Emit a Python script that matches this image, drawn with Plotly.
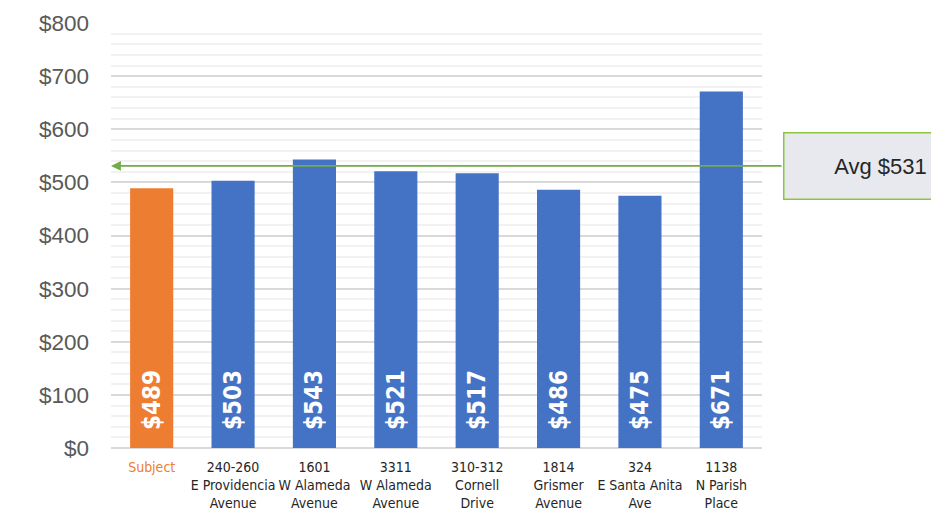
import plotly.graph_objects as go

categories = ["Subject", "240-260<br>E Providencia<br>Avenue", "1601<br>W Alameda<br>Avenue",
              "3311<br>W Alameda<br>Avenue", "310-312<br>Cornell<br>Drive", "1814<br>Grismer<br>Avenue",
              "324<br>E Santa Anita<br>Ave", "1138<br>N Parish<br>Place"]
values = [489, 503, 543, 521, 517, 486, 475, 671]
avg_value = 531
avg_label = "Avg $531"
y_ticks = [0, 100, 200, 300, 400, 500, 600, 700, 800]
y_tick_labels = ["$0", "$100", "$200", "$300", "$400", "$500", "$600", "$700", "$800"]

ORANGE = "#ED7D31"
BLUE = "#4472C4"
GREEN = "#70AD47"
COND = "Liberation Sans Narrow, DejaVu Sans Condensed"

colors = [ORANGE] + [BLUE] * (len(values) - 1)
xpos = list(range(len(values)))
ticktext = [f"<span style='color:{ORANGE}'>{categories[0]}</span>"] + categories[1:]

fig = go.Figure()
fig.add_trace(go.Bar(
    x=xpos, y=values, marker=dict(color=colors, line=dict(width=0)),
    text=[f"${v}" for v in values], textposition="inside", insidetextanchor="start",
    textangle=-90, cliponaxis=False,
    texttemplate="  %{text}",
    textfont=dict(family=COND, size=24, color="white", weight="bold"),
    hoverinfo="skip",
))

fig.update_layout(
    width=931, height=523,
    margin=dict(l=111, r=169, t=23, b=75),
    paper_bgcolor="white", plot_bgcolor="white",
    showlegend=False, bargap=0.47,
    xaxis=dict(range=[-0.5, len(values) - 0.5], tickvals=xpos, ticktext=ticktext,
               tickangle=0, automargin=False, ticklabelstandoff=9,
               showgrid=False, zeroline=False, showline=False, ticks="",
               tickfont=dict(family=COND, size=14, color="#262626")),
    yaxis=dict(range=[0, 800], tickvals=y_ticks, ticktext=y_tick_labels, automargin=False,
               showgrid=True, gridcolor="#D9D9D9", gridwidth=1.5,
               minor=dict(dtick=20, showgrid=True, gridcolor="#F2F2F2", gridwidth=1.5),
               zeroline=True, zerolinecolor="#D9D9D9", zerolinewidth=2,
               showline=False, ticks="", ticklabelstandoff=21,
               tickfont=dict(family="Liberation Sans, Arial", size=22.5, color="#595959")),
)

# average arrow pointing left to the axis
tail_x = (len(values) - 0.5) + 21 / 81.375
fig.add_annotation(x=-0.5, y=avg_value, ax=tail_x, ay=avg_value, axref="x", ayref="y",
                   xref="x", yref="y", text="", showarrow=True,
                   arrowhead=2, arrowsize=1.1, arrowwidth=1.8, arrowcolor=GREEN)
# average box
fig.add_annotation(xref="paper", yref="y", x=1 + 21 / 651, y=avg_value, xanchor="left", yanchor="middle",
                   text=avg_label, showarrow=False, width=192, height=65, align="center",
                   bgcolor="#E7E9EE", bordercolor="#8CC63F", borderwidth=1.5, borderpad=0,
                   font=dict(family="Liberation Sans, Arial", size=22, color="#262626"))

fig.write_html("out.html")
